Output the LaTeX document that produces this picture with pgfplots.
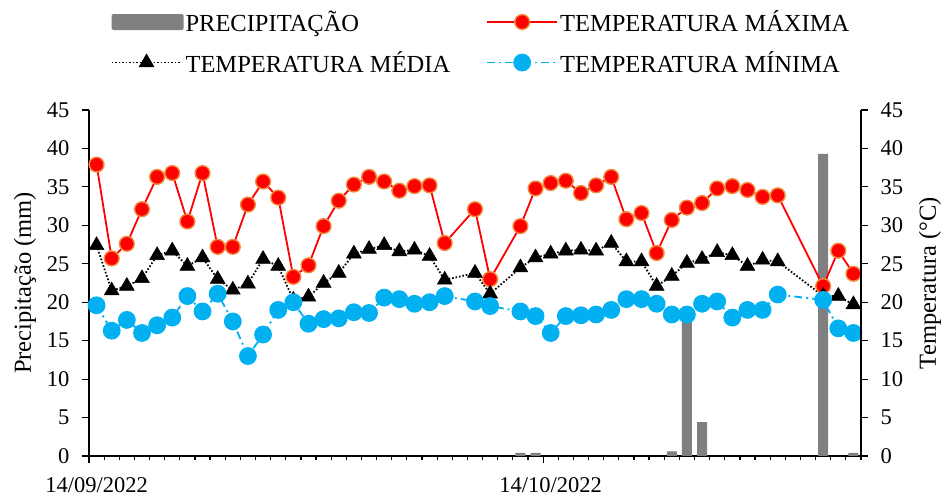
\documentclass[border=0pt]{standalone}
\usepackage{fontspec}
\setmainfont{Liberation Serif}
\usepackage{pgfplots}
\pgfplotsset{compat=1.18}
\usepackage{pgfplotstable}

\definecolor{maxred}{HTML}{FF0000}
\definecolor{maxedge}{HTML}{F08A3C}
\definecolor{minblue}{HTML}{00B0F0}
\definecolor{bargray}{HTML}{808080}

% day index: 0 = 14/09/2022
\pgfplotstableread{
d tmax tmed tmin
0 37.9 27.4 19.6
1 25.7 21.5 16.3
2 27.6 22.1 17.7
3 32.1 23.1 16.0
4 36.3 26.1 17.0
5 36.8 26.7 18.0
6 30.5 24.7 20.8
7 36.8 25.8 18.8
8 27.2 23.0 21.1
9 27.2 21.6 17.5
10 32.7 22.4 13.0
11 35.7 25.6 15.8
12 33.6 24.7 19.0
13 23.3 20.3 20.0
14 24.8 20.7 17.2
15 29.9 22.5 17.8
16 33.2 23.8 17.9
17 35.3 26.3 18.7
18 36.3 26.9 18.6
19 35.7 27.4 20.6
20 34.5 26.6 20.4
21 35.1 26.8 19.8
22 35.2 26.0 20.0
23 27.7 22.9 20.8
25 32.1 23.8 20.1
26 23.0 21.1 19.5
28 29.9 24.5 18.8
29 34.8 25.8 18.2
30 35.5 26.3 16.0
31 35.8 26.7 18.2
32 34.2 26.8 18.3
33 35.2 26.7 18.4
34 36.3 27.7 19.0
35 30.8 25.3 20.4
36 31.6 25.3 20.4
37 26.4 22.1 19.8
38 30.7 23.4 18.4
39 32.3 25.1 18.4
40 32.9 25.6 19.8
41 34.8 26.5 20.1
42 35.1 26.1 18.0
43 34.6 24.7 19.0
44 33.7 25.5 19.0
45 33.9 25.3 21.0
48 22.1 20.8 20.3
49 26.7 20.8 16.6
50 23.7 19.7 16.0
}\temps

\pgfplotstableread{
d p
28 0.4
29 0.4
38 0.6
39 18.6
40 4.4
48 39.3
50 0.4
}\precip

\pgfplotsset{
  common/.style={
    scale only axis, width=772pt, height=346pt,
    at={(0pt,0pt)}, anchor=south west,
    xmin=-0.5, xmax=50.5, ymin=0, ymax=45,
    ytick={0,5,...,45},
    tick align=outside,
    major tick length=7pt, minor tick length=4.5pt,
    axis line style={line width=1.2pt, black},
    major tick style={line width=1.2pt, black},
    minor tick style={line width=1.2pt, black},
    tick label style={font=\fontsize{22.5}{26}\selectfont},
    label style={font=\fontsize{24.5}{28}\selectfont},
    /pgf/number format/assume math mode=true,
    clip=false,
  },
  lineleg/.style={legend image code/.code={
    \draw[mark repeat=2, mark phase=2] plot coordinates {(0pt,0pt) (35pt,0pt) (70pt,0pt)};}},
}

\begin{document}
\begin{tikzpicture}
\begin{axis}[common,
  axis x line*=bottom, axis y line*=left,
  xtick={-0.5,29.5}, xticklabels={14/09/2022,14/10/2022},
  x tick label style={xshift=7.57pt, yshift=-11pt},
  minor xtick={0.5,1.5,...,50.5},
  y tick label style={xshift=-9pt},
  ylabel={Precipitação (mm)},
  ylabel style={at={(axis description cs:-0.0829,0.5)}, anchor=center},
  legend columns=2,
  legend cell align=left,
  legend style={at={(axis description cs:0.5,1)}, anchor=south, yshift=32pt, xshift=6pt,
    draw=none, fill=none, font=\fontsize{24.5}{27}\selectfont,
    row sep=14pt,
    /tikz/every even column/.append style={column sep=34pt}},
]
\addplot[ybar, bar width=10pt, fill=bargray, draw=none,
  legend image code/.code={\fill[bargray, rounded corners=1.5pt] (0pt,-8pt) rectangle (72pt,8pt);}]
  table[x=d, y=p]{\precip};
\addlegendentry{PRECIPITAÇÃO}
\addplot[lineleg, maxred, line width=1.8pt, mark=*, mark size=7.4pt,
  mark options={solid, fill=maxred, draw=maxedge, line width=1.4pt}]
  table[x=d, y=tmax]{\temps};
\addlegendentry{TEMPERATURA MÁXIMA}
\addplot[lineleg, black, line width=1.8pt, dash pattern=on 1.6pt off 1.9pt,
  mark=triangle*, mark size=8.6pt, mark options={solid, fill=black, draw=black, line width=0.5pt}]
  table[x=d, y=tmed]{\temps};
\addlegendentry{TEMPERATURA MÉDIA}
\addplot[lineleg, minblue, line width=1.8pt, dash pattern=on 8pt off 4pt on 2pt off 4pt,
  mark=*, mark size=8pt, mark options={solid, fill=minblue, draw=minblue}]
  table[x=d, y=tmin]{\temps};
\addlegendentry{TEMPERATURA MÍNIMA}
\end{axis}
\begin{axis}[common,
  axis y line*=right, axis x line=none,
  y tick label style={xshift=9pt},
  ylabel={Temperatura (°C)},
  ylabel style={at={(axis description cs:1.0894,0.5)}, anchor=center},
]
\addplot[draw=none] coordinates {(0,0)};
\end{axis}
\pgfresetboundingbox
\useasboundingbox (-89pt,-42pt) rectangle (857pt,456pt);
\end{tikzpicture}
\end{document}
